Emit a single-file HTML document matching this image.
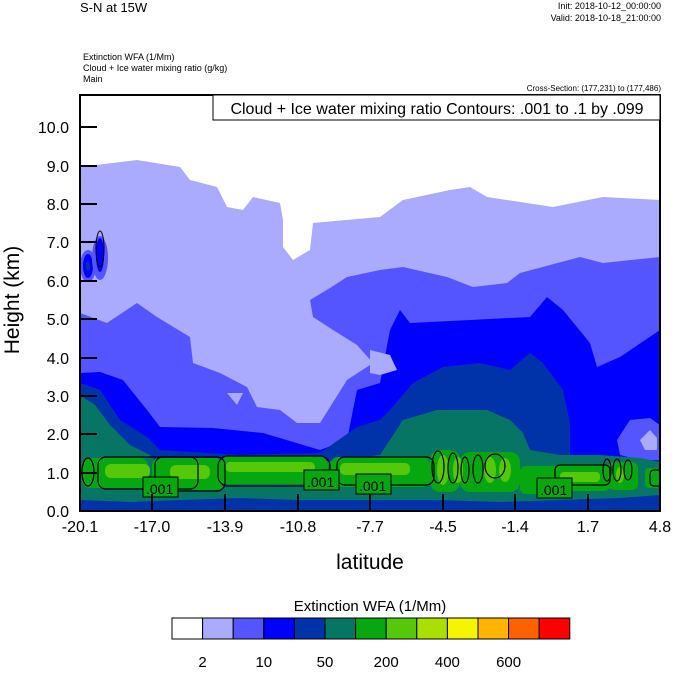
<!DOCTYPE html>
<html><head><meta charset="utf-8"><style>
body{margin:0;background:#fff;}
svg text{font-family:"Liberation Sans",sans-serif;fill:#000;}
</style></head><body>
<svg width="674" height="668" viewBox="0 0 674 668" xmlns="http://www.w3.org/2000/svg">
<defs><clipPath id="c"><rect x="80" y="95" width="580" height="416"/></clipPath></defs>
<g clip-path="url(#c)">
<rect x="80" y="95" width="580" height="416" fill="#fff"/>
<!-- lavender -->
<polygon fill="#aaaaff" points="80,167 137,160 180,167 190,180 217,187 227,207 243,210 253,197 280,203 283,220 283,247 293,260 310,250 313,223 380,217 403,200 450,190 470,187 487,197 553,207 603,197 660,200 660,511 80,511"/>
<!-- medium blue -->
<polygon fill="#5555ff" points="80,313 107,323 137,303 157,317 190,337 193,363 220,373 247,387 257,407 280,410 297,423 320,423 347,380 373,363 357,345 333,330 313,317 310,300 330,288 347,277 380,270 403,267 447,277 473,287 507,283 520,273 580,257 603,263 660,257 660,511 80,511"/>
<polygon fill="#aaaaff" points="227,393 243,393 237,405"/>
<!-- blue -->
<polygon fill="#0000ff" points="80,373 100,372 123,380 147,410 160,427 213,428 263,433 320,450 347,440 357,390 380,383 390,330 400,310 410,323 470,320 530,317 547,297 563,310 590,343 597,367 620,357 660,330 660,511 80,511"/>
<polygon fill="#aaaaff" points="370,350 390,355 397,370 380,375 370,373"/>
<polygon fill="#5555ff" points="617,440 630,420 650,418 660,425 660,460 640,460 620,455"/>
<polygon fill="#aaaaff" points="640,440 650,430 657,438 657,450 645,450"/>
<!-- left blobs -->
<ellipse cx="88" cy="266" rx="8" ry="16" fill="#5555ff"/>
<ellipse cx="88" cy="266" rx="5" ry="12" fill="#0000ff"/>
<ellipse cx="88" cy="266" rx="2" ry="5" fill="#0033aa"/>
<ellipse cx="100" cy="258" rx="8" ry="22" fill="#5555ff"/>
<ellipse cx="100" cy="255" rx="4" ry="17" fill="#0000ff"/>
<ellipse cx="100" cy="249" rx="4" ry="18" fill="none" stroke="#000" stroke-width="1"/>
<!-- dark blue -->
<polygon fill="#0033aa" points="80,383 100,390 120,420 147,437 160,450 240,455 320,453 357,427 380,420 390,410 413,383 443,367 480,363 510,370 530,353 543,363 563,390 570,423 570,457 603,460 660,460 660,511 80,511"/>
<!-- teal -->
<polygon fill="#077564" points="80,395 95,405 110,425 130,445 150,455 157,462 200,462 240,465 320,462 380,455 403,420 437,410 487,410 510,420 523,433 530,450 560,455 600,455 640,458 660,462 660,495 620,498 560,500 500,502 440,500 380,500 300,500 240,498 180,500 130,502 80,500"/>
<!-- green band -->
<g fill="#07a80f">
<rect x="82" y="458" width="66" height="30" rx="8"/>
<rect x="152" y="458" width="72" height="32" rx="8"/>
<rect x="218" y="456" width="110" height="28" rx="10"/>
<rect x="330" y="457" width="100" height="30" rx="8"/>
<rect x="430" y="450" width="30" height="42" rx="10"/>
<rect x="460" y="452" width="60" height="40" rx="10"/>
<rect x="520" y="466" width="40" height="28" rx="6"/>
<rect x="555" y="465" width="55" height="26" rx="6"/>
<rect x="608" y="462" width="30" height="28" rx="6"/>
<rect x="645" y="468" width="15" height="20" rx="4"/>
</g>
<g fill="#55c80a">
<rect x="105" y="464" width="45" height="14" rx="6"/>
<rect x="170" y="465" width="40" height="14" rx="6"/>
<rect x="225" y="462" width="90" height="10" rx="5"/>
<rect x="340" y="463" width="70" height="12" rx="5"/>
<ellipse cx="443" cy="470" rx="6" ry="15"/>
<ellipse cx="458" cy="470" rx="5" ry="13"/>
<ellipse cx="490" cy="470" rx="6" ry="13"/>
<ellipse cx="505" cy="470" rx="6" ry="12"/>
<rect x="560" y="472" width="40" height="10" rx="4"/>
<ellipse cx="620" cy="475" rx="4" ry="8"/>
</g>
<!-- contours -->
<g fill="none" stroke="#000" stroke-width="1.2">
<rect x="98" y="457" width="100" height="32" rx="8"/>
<rect x="155" y="457" width="70" height="34" rx="8"/>
<rect x="218" y="456" width="112" height="30" rx="10"/>
<rect x="337" y="457" width="97" height="28" rx="8"/>
<ellipse cx="438" cy="467" rx="6" ry="16"/>
<ellipse cx="453" cy="468" rx="5" ry="15"/>
<ellipse cx="465" cy="470" rx="4" ry="13"/>
<ellipse cx="478" cy="469" rx="5" ry="14"/>
<ellipse cx="495" cy="466" rx="10" ry="12"/>
<rect x="555" y="465" width="55" height="20" rx="5"/>
<ellipse cx="607" cy="470" rx="4" ry="11"/>
<ellipse cx="617" cy="470" rx="4" ry="11"/>
<ellipse cx="628" cy="470" rx="4" ry="10"/>
<rect x="650" y="470" width="12" height="16" rx="4"/>
<ellipse cx="88" cy="472" rx="6" ry="14"/>
</g>
<g font-size="14">
<rect x="143" y="477" width="35" height="20" fill="#07a80f" stroke="#000"/><text x="146" y="494">.001</text>
<rect x="304" y="470" width="35" height="20" fill="#07a80f" stroke="#000"/><text x="307" y="487">.001</text>
<rect x="356" y="474" width="35" height="20" fill="#07a80f" stroke="#000"/><text x="359" y="491">.001</text>
<rect x="537" y="478" width="35" height="20" fill="#07a80f" stroke="#000"/><text x="540" y="495">.001</text>
</g>
</g>
<rect x="80" y="95" width="580" height="416" fill="none" stroke="#000" stroke-width="2"/>
<g stroke="#000" stroke-width="2">
<line x1="80" y1="473" x2="97" y2="473"/><line x1="80" y1="434" x2="97" y2="434"/><line x1="80" y1="396" x2="97" y2="396"/><line x1="80" y1="358" x2="97" y2="358"/><line x1="80" y1="319" x2="97" y2="319"/><line x1="80" y1="281" x2="97" y2="281"/><line x1="80" y1="242" x2="97" y2="242"/><line x1="80" y1="204" x2="97" y2="204"/><line x1="80" y1="166" x2="97" y2="166"/><line x1="80" y1="127" x2="97" y2="127"/>
<line x1="152" y1="511" x2="152" y2="494"/><line x1="225" y1="511" x2="225" y2="494"/><line x1="298" y1="511" x2="298" y2="494"/><line x1="370" y1="511" x2="370" y2="494"/><line x1="443" y1="511" x2="443" y2="494"/><line x1="515" y1="511" x2="515" y2="494"/><line x1="588" y1="511" x2="588" y2="494"/>
</g>
<g font-size="16" text-anchor="end">
<text x="69" y="517">0.0</text><text x="69" y="479">1.0</text><text x="69" y="440">2.0</text><text x="69" y="402">3.0</text><text x="69" y="364">4.0</text><text x="69" y="325">5.0</text><text x="69" y="287">6.0</text><text x="69" y="248">7.0</text><text x="69" y="210">8.0</text><text x="69" y="172">9.0</text><text x="69" y="133">10.0</text>
</g>
<g font-size="16" text-anchor="middle">
<text x="80" y="532">-20.1</text><text x="152" y="532">-17.0</text><text x="225" y="532">-13.9</text><text x="298" y="532">-10.8</text><text x="370" y="532">-7.7</text><text x="443" y="532">-4.5</text><text x="515" y="532">-1.4</text><text x="588" y="532">1.7</text><text x="660" y="532">4.8</text>
</g>
<text x="370" y="569" font-size="21" text-anchor="middle">latitude</text>
<text transform="translate(19,300) rotate(-90)" font-size="21" text-anchor="middle">Height (km)</text>
<rect x="213" y="95" width="447" height="25" fill="#fff" stroke="#000" stroke-width="1"/>
<text x="437" y="114" font-size="16" text-anchor="middle">Cloud + Ice water mixing ratio Contours: .001 to .1 by .099</text>
<text x="80" y="12" font-size="13">S-N at 15W</text>
<text x="661" y="9" font-size="9" text-anchor="end">Init: 2018-10-12_00:00:00</text>
<text x="661" y="21" font-size="9" text-anchor="end">Valid: 2018-10-18_21:00:00</text>
<text x="83" y="60" font-size="9">Extinction WFA   (1/Mm)</text>
<text x="83" y="71" font-size="9">Cloud + Ice water mixing ratio   (g/kg)</text>
<text x="83" y="82" font-size="9">Main</text>
<text x="661" y="91" font-size="8" text-anchor="end">Cross-Section: (177,231) to (177,486)</text>
<text x="370" y="611" font-size="15" text-anchor="middle">Extinction WFA  (1/Mm)</text>
<g stroke="#000" stroke-width="1">
<rect x="172" y="618" width="30.6" height="21" fill="#ffffff"/>
<rect x="202.6" y="618" width="30.6" height="21" fill="#aaaaff"/>
<rect x="233.2" y="618" width="30.6" height="21" fill="#5555ff"/>
<rect x="263.8" y="618" width="30.6" height="21" fill="#0000ff"/>
<rect x="294.4" y="618" width="30.6" height="21" fill="#0033aa"/>
<rect x="325" y="618" width="30.6" height="21" fill="#077564"/>
<rect x="355.6" y="618" width="30.6" height="21" fill="#07a80f"/>
<rect x="386.2" y="618" width="30.6" height="21" fill="#55c80a"/>
<rect x="416.8" y="618" width="30.6" height="21" fill="#aae000"/>
<rect x="447.4" y="618" width="30.6" height="21" fill="#f5f500"/>
<rect x="478" y="618" width="30.6" height="21" fill="#ffb400"/>
<rect x="508.6" y="618" width="30.6" height="21" fill="#ff6000"/>
<rect x="539.2" y="618" width="30.6" height="21" fill="#ff0000"/>
</g>
<g font-size="15" text-anchor="middle">
<text x="202.6" y="667">2</text><text x="263.8" y="667">10</text><text x="325" y="667">50</text><text x="386.2" y="667">200</text><text x="447.4" y="667">400</text><text x="508.6" y="667">600</text>
</g>
</svg>
</body></html>
